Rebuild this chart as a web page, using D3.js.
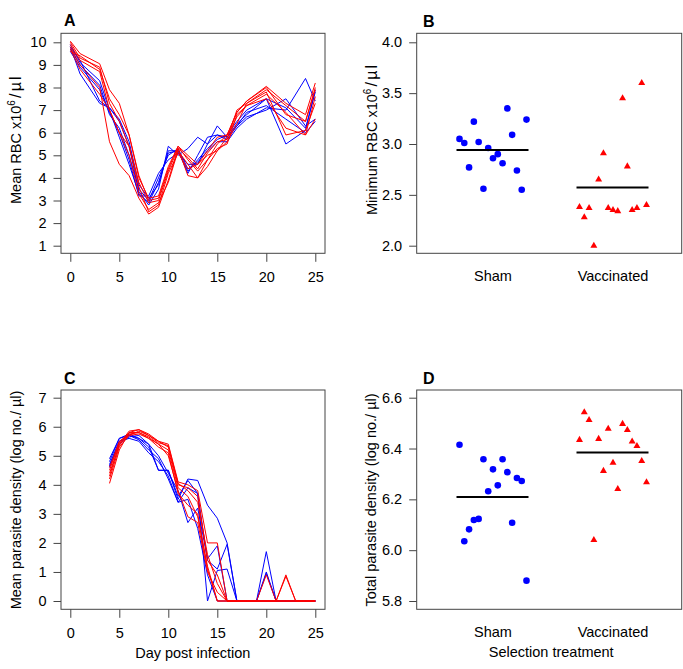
<!DOCTYPE html>
<html>
<head>
<meta charset="utf-8">
<script src="https://cdn.jsdelivr.net/npm/d3@7"></script>
<style>
  body { margin: 0; background: #fff; }
  text { font-family: "Liberation Sans", Arial, Helvetica, sans-serif; }
</style>
</head>
<body>
<div id="chart"></div>
<script>
// ---- data ----
const groups = ["Sham", "Vaccinated"];

// panel A: mean RBC per line, by day
const daysA = [0, 1, 3, 4, 5, 6, 7, 8, 9, 10, 11, 12, 13, 14, 15, 16, 17, 18, 20, 22, 24, 25];
const rbcSham = [
  [9.8, 8.6, 7.3, 7.1, 6.5, 5.4, 3.4, 2.8, 3.5, 5.4, 5.0, 5.3, 5.8, 5.5, 6.3, 5.8, 6.3, 6.7, 7.0, 7.5, 6.3, 6.6],
  [9.9, 9.1, 8.3, 7.0, 5.8, 4.6, 3.3, 2.9, 3.8, 5.1, 5.2, 4.2, 5.0, 5.8, 5.9, 5.8, 6.4, 6.8, 7.5, 5.5, 6.1, 7.9],
  [9.7, 9.0, 8.1, 6.8, 6.2, 5.0, 3.5, 3.0, 4.0, 5.0, 5.3, 4.4, 4.7, 5.2, 5.6, 5.6, 6.2, 6.6, 7.1, 7.0, 8.4, 7.4],
  [9.6, 8.9, 7.9, 6.9, 6.0, 4.8, 3.2, 3.2, 4.2, 4.8, 5.1, 4.6, 4.6, 5.5, 5.9, 5.7, 6.3, 6.9, 7.2, 6.6, 6.0, 6.5],
  [9.8, 9.2, 7.4, 7.1, 6.6, 5.6, 3.7, 3.1, 3.7, 5.2, 5.2, 4.3, 4.8, 5.3, 5.7, 5.9, 6.5, 7.0, 7.5, 7.1, 6.2, 7.8]
];
const rbcVacc = [
  [10.05, 9.5, 9.05, 7.9, 7.3, 5.9, 4.0, 3.1, 3.2, 4.5, 5.4, 5.0, 4.6, 5.2, 5.8, 5.9, 6.9, 7.4, 8.05, 7.3, 6.8, 8.2],
  [10.0, 9.3, 8.9, 7.3, 6.5, 5.4, 3.8, 2.9, 3.0, 4.3, 5.3, 4.9, 4.4, 5.1, 5.6, 5.7, 7.0, 7.3, 7.9, 7.2, 6.5, 8.0],
  [9.9, 9.2, 8.7, 7.0, 6.0, 5.0, 3.3, 2.6, 2.9, 3.8, 5.2, 4.6, 4.0, 4.8, 5.3, 5.5, 6.8, 7.2, 7.7, 6.9, 5.9, 7.6],
  [9.8, 9.0, 8.0, 5.6, 4.6, 4.1, 3.1, 2.4, 2.7, 3.9, 5.3, 4.1, 4.0, 4.5, 5.2, 5.6, 6.4, 7.3, 7.8, 5.9, 6.1, 7.3],
  [9.7, 8.8, 7.7, 7.0, 6.0, 5.4, 3.6, 2.5, 2.8, 4.2, 5.1, 4.4, 4.6, 5.0, 5.2, 5.8, 6.7, 7.2, 7.5, 6.2, 5.9, 6.6],
  [9.6, 9.4, 8.8, 7.5, 6.8, 5.9, 4.1, 3.0, 3.1, 4.4, 5.4, 4.8, 4.3, 4.8, 5.5, 5.9, 6.9, 7.4, 8.0, 6.8, 6.5, 7.9]
];

// panel C: mean parasite density (log) per line, by day
const daysC = [4, 5, 6, 7, 8, 9, 10, 11, 12, 13, 14, 15, 16, 17, 18, 19, 20, 21, 22, 23, 24, 25];
const parSham = [
  [4.9, 5.6, 5.75, 5.6, 5.3, 4.5, 4.5, 3.5, 4.2, 4.15, 3.3, 2.85, 2.0, 0, 0, 0, 1.7, 0, 0, 0, 0, 0],
  [4.7, 5.5, 5.7, 5.55, 5.2, 4.9, 4.2, 3.4, 3.9, 3.7, 0, 1.05, 1.1, 0, 0, 0, 0.95, 0, 0, 0, 0, 0],
  [4.6, 5.4, 5.65, 5.7, 5.4, 5.0, 4.4, 3.8, 2.7, 3.2, 1.45, 1.9, 0, 0, 0, 0, 1.0, 0, 0, 0, 0, 0],
  [4.8, 5.6, 5.7, 5.6, 5.4, 4.5, 4.5, 3.6, 4.15, 3.7, 1.4, 1.1, 1.95, 0, 0, 0, 0, 0, 0, 0, 0, 0],
  [4.65, 5.5, 5.6, 5.5, 5.1, 4.8, 4.3, 3.4, 3.5, 2.5, 0.9, 0, 0, 0, 0, 0, 0, 0, 0, 0, 0, 0]
];
const parVacc = [
  [4.05, 5.2, 5.8, 5.9, 5.75, 5.5, 5.4, 4.1, 4.0, 3.8, 2.0, 2.0, 0, 0, 0, 0, 0, 0, 0, 0, 0, 0],
  [4.3, 5.4, 5.85, 5.9, 5.7, 5.5, 5.3, 4.0, 3.9, 3.6, 1.4, 0.9, 0, 0, 0, 0, 0.9, 0, 0, 0, 0, 0],
  [4.6, 5.5, 5.75, 5.8, 5.65, 5.4, 5.2, 3.9, 3.6, 2.9, 1.2, 0, 0, 0, 0, 0, 0, 0, 0.9, 0, 0, 0],
  [4.5, 5.45, 5.7, 5.75, 5.6, 5.4, 5.0, 3.8, 2.9, 2.7, 1.0, 0.3, 0, 0, 0, 0, 0, 0, 0.85, 0, 0, 0],
  [4.2, 5.3, 5.7, 5.85, 5.7, 5.45, 5.35, 4.05, 3.8, 3.4, 1.6, 0.6, 0, 0, 0, 0, 0, 0, 0, 0, 0, 0],
  [4.4, 5.35, 5.8, 5.8, 5.6, 5.3, 5.1, 3.7, 3.3, 3.0, 1.1, 0, 0, 0, 0, 0, 0, 0, 0, 0, 0, 0]
];

// panel B: minimum RBC per mouse
const minRbcSham = [3.05, 3.01, 2.77, 3.22, 3.02, 2.56, 2.96, 2.86, 2.90, 2.81, 3.35, 3.09, 2.74, 2.55, 3.24];
const minRbcVacc = [2.38, 2.28, 2.37, 2.00, 2.65, 2.91, 2.37, 2.35, 2.34, 3.45, 2.78, 2.35, 2.37, 3.60, 2.40];

// panel D: total parasite density per mouse
const totParSham = [6.415, 6.035, 6.082, 6.119, 6.123, 6.358, 6.232, 6.318, 6.255, 6.358, 6.307, 6.108, 6.284, 6.272, 5.880];
const totParVacc = [6.434, 6.543, 6.512, 6.040, 6.438, 6.312, 6.478, 6.344, 6.241, 6.497, 6.473, 6.428, 6.410, 6.351, 6.267];

// tick values
const ticksDay = [0, 5, 10, 15, 20, 25];
const ticksA = [1, 2, 3, 4, 5, 6, 7, 8, 9, 10];
const ticksB = [2.0, 2.5, 3.0, 3.5, 4.0];
const ticksC = [0, 1, 2, 3, 4, 5, 6, 7];
const ticksD = [5.8, 6.0, 6.2, 6.4, 6.6];

// ---- layout ----
const cfg = {
  width: 683, height: 669,
  colors: { sham: "#0000ff", vacc: "#ff0000", box: "#444" },
  fontSize: 14.5,
  left:  { x0: 61, x1: 325 },
  right: { x0: 416.7, x1: 681.7 },
  top:    { y0: 33.3, y1: 253.3, t0: 42.3, t1: 245.7 },
  bottom: { y0: 390, y1: 609.3, t0: 397.7, t1: 601 }
};

const svg = d3.select("#chart").append("svg")
  .attr("width", cfg.width)
  .attr("height", cfg.height);

const xDay = d3.scaleLinear().domain([0, 25]).range([70.3, 315.3]);
const xGrp = d3.scalePoint().domain(groups).range([492.5, 612.5]);
const yA = d3.scaleLinear().domain([1, 10]).range([cfg.top.t1, cfg.top.t0]);
const yB = d3.scaleLinear().domain([2, 4]).range([cfg.top.t1, cfg.top.t0]);
const yC = d3.scaleLinear().domain([0, 7]).range([cfg.bottom.t1, cfg.bottom.t0]);
const yD = d3.scaleLinear().domain([5.8, 6.6]).range([cfg.bottom.t1, cfg.bottom.t0]);

function drawBox(h, v) {
  svg.append("rect")
    .attr("x", h.x0).attr("y", v.y0)
    .attr("width", h.x1 - h.x0).attr("height", v.y1 - v.y0)
    .attr("fill", "none").attr("stroke", cfg.colors.box).attr("stroke-width", 1);
}

function styleAxis(g) {
  g.select(".domain").remove();
  g.selectAll(".tick line").attr("stroke", cfg.colors.box);
  g.selectAll(".tick text")
    .attr("fill", "#000")
    .style("font-size", cfg.fontSize + "px")
    .style("font-family", '"Liberation Sans", Arial, sans-serif');
}

function yAxis(scale, ticks, x, fmt) {
  svg.append("g")
    .attr("transform", `translate(${x},0)`)
    .call(d3.axisLeft(scale).tickValues(ticks).tickSize(7.5).tickPadding(7).tickFormat(fmt))
    .call(styleAxis);
}

function dayAxis(y) {
  svg.append("g")
    .attr("transform", `translate(0,${y})`)
    .call(d3.axisBottom(xDay).tickValues(ticksDay).tickSize(8.5).tickPadding(9.5))
    .call(styleAxis);
}

function groupAxis(y) {
  svg.append("g")
    .attr("transform", `translate(0,${y})`)
    .call(d3.axisBottom(xGrp).tickSize(0).tickPadding(17.5))
    .call(styleAxis);
}

function panelLetter(txt, x, y) {
  svg.append("text").text(txt)
    .attr("x", x).attr("y", y)
    .style("font-size", "16px").style("font-weight", "bold");
}

function xTitle(txt, x, y) {
  svg.append("text").text(txt)
    .attr("x", x).attr("y", y)
    .attr("text-anchor", "middle")
    .style("font-size", cfg.fontSize + "px");
}

// rotated title; parts carry the 10^6 superscript
function yTitle(parts, x, y, anchor) {
  const t = svg.append("text")
    .attr("transform", `translate(${x},${y}) rotate(-90)`)
    .attr("text-anchor", anchor)
    .style("font-size", cfg.fontSize + "px");
  parts.forEach(p => {
    const s = t.append("tspan").text(p.t);
    if (p.sup) s.attr("dy", -6).style("font-size", "10px");
    if (p.down) s.attr("dy", 6);
    if (p.dx) s.attr("dx", p.dx);
    if (p.size) s.style("font-size", p.size + "px");
  });
}

function drawLines(days, series, yScale, color) {
  const line = d3.line().x((d, i) => xDay(days[i])).y(d => yScale(d));
  svg.append("g").selectAll("path")
    .data(series)
    .enter().append("path")
    .attr("d", line)
    .attr("fill", "none")
    .attr("stroke", color)
    .attr("stroke-width", 1);
}

// evenly spread strip points around the group centre
const jitter = d3.scaleLinear().domain([0, 14]).range([-33, 34]);

function drawStrip(values, group, yScale, color, shape) {
  const g = svg.append("g");
  const cx = xGrp(group);
  if (shape === "circle") {
    g.selectAll("circle").data(values).enter().append("circle")
      .attr("cx", (d, i) => cx + jitter(i))
      .attr("cy", d => yScale(d))
      .attr("r", 3.3)
      .attr("fill", color);
  } else {
    g.selectAll("path").data(values).enter().append("path")
      .attr("d", d3.symbol(d3.symbolTriangle, 21))
      .attr("transform", (d, i) => `translate(${cx + jitter(i)},${yScale(d)})`)
      .attr("fill", color);
  }
  const m = d3.mean(values);
  svg.append("line")
    .attr("x1", cx - 36).attr("x2", cx + 36)
    .attr("y1", yScale(m)).attr("y2", yScale(m))
    .attr("stroke", "#000").attr("stroke-width", 2);
}

const rbcUnit = [
  { t: "6", sup: true },
  { t: "/", down: true, dx: 2, size: 16 },
  { t: "\u00b5", dx: 2.5, size: 16 },
  { t: "l", dx: 2, size: 16 }
];

// ---- panel A ----
drawLines(daysA, rbcSham, yA, cfg.colors.sham);
drawLines(daysA, rbcVacc, yA, cfg.colors.vacc);
drawBox(cfg.left, cfg.top);
yAxis(yA, ticksA, cfg.left.x0, d3.format("d"));
dayAxis(cfg.top.y1);
panelLetter("A", 64, 26);
yTitle([{ t: "Mean RBC x10" }, ...rbcUnit], 20.5, 204, "start");

// ---- panel B ----
drawStrip(minRbcSham, "Sham", yB, cfg.colors.sham, "circle");
drawStrip(minRbcVacc, "Vaccinated", yB, cfg.colors.vacc, "triangle");
drawBox(cfg.right, cfg.top);
yAxis(yB, ticksB, cfg.right.x0, d3.format(".1f"));
groupAxis(cfg.top.y1);
panelLetter("B", 423, 27);
yTitle([{ t: "Minimum RBC x10" }, ...rbcUnit], 377, 215, "start");

// ---- panel C ----
drawLines(daysC, parSham, yC, cfg.colors.sham);
drawLines(daysC, parVacc, yC, cfg.colors.vacc);
drawBox(cfg.left, cfg.bottom);
yAxis(yC, ticksC, cfg.left.x0, d3.format("d"));
dayAxis(cfg.bottom.y1);
panelLetter("C", 64, 384);
yTitle([{ t: "Mean parasite density (log no./ \u00b5l)" }], 20.5, 500, "middle");
xTitle("Day post infection", xDay(12.5), 657.5);

// ---- panel D ----
drawStrip(totParSham, "Sham", yD, cfg.colors.sham, "circle");
drawStrip(totParVacc, "Vaccinated", yD, cfg.colors.vacc, "triangle");
drawBox(cfg.right, cfg.bottom);
yAxis(yD, ticksD, cfg.right.x0, d3.format(".1f"));
groupAxis(cfg.bottom.y1);
panelLetter("D", 423, 384);
yTitle([{ t: "Total parasite density (log no./ \u00b5l)" }], 376, 500, "middle");
xTitle("Selection treatment", (cfg.right.x0 + cfg.right.x1) / 2 + 2, 657);
</script>
</body>
</html>
